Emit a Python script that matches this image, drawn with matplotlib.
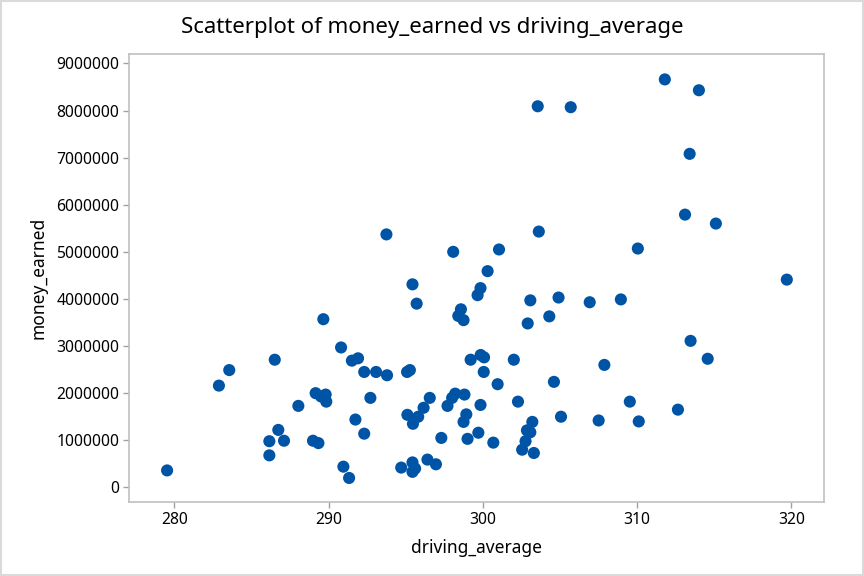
import matplotlib

matplotlib.use("Agg")

import matplotlib.pyplot as plt
from matplotlib.ticker import FixedLocator, FuncFormatter

driving_average = [
    279.52, 282.88, 283.55, 286.15, 286.15, 286.50, 286.73, 287.10, 288.03, 288.98,
    289.33, 289.15, 289.50, 289.80, 289.84, 289.65, 290.80, 290.95, 291.32, 291.50,
    291.90, 291.73, 292.30, 292.30, 292.70, 293.07, 293.74, 293.78, 294.70, 295.08,
    295.26, 295.10, 295.46, 295.80, 296.15, 296.55, 295.43, 295.60, 295.43, 295.43,
    295.70, 296.40, 296.95, 297.30, 297.70, 298.00, 298.20, 298.80, 298.92, 298.74,
    299.00, 299.70, 299.84, 298.07, 298.57, 298.40, 298.74, 299.20, 299.85, 300.07,
    300.05, 299.65, 299.84, 300.30, 300.67, 300.95, 301.04, 302.00, 302.27, 302.90,
    303.07, 302.85, 303.07, 302.76, 302.54, 303.30, 303.20, 303.55, 303.62, 304.30,
    304.60, 304.90, 305.06, 305.69, 306.92, 307.50, 307.87, 308.94, 309.52, 310.04,
    310.10, 311.79, 312.64, 313.10, 313.40, 313.46, 314.00, 314.57, 315.10, 319.70,
]

money_earned = [
    360000, 2160000, 2490000, 980000, 680000, 2710000, 1220000, 990000, 1730000, 990000,
    940000, 2000000, 1930000, 1970000, 1820000, 3570000, 2970000, 440000, 200000, 2690000,
    2740000, 1440000, 2450000, 1140000, 1900000, 2450000, 5370000, 2380000, 420000, 2450000,
    2490000, 1540000, 1350000, 1500000, 1690000, 1900000, 530000, 400000, 330000, 4310000,
    3900000, 590000, 490000, 1050000, 1730000, 1900000, 1990000, 1970000, 1550000, 1390000,
    1030000, 1160000, 1750000, 5000000, 3780000, 3640000, 3550000, 2710000, 2810000, 2760000,
    2450000, 4080000, 4230000, 4590000, 950000, 2190000, 5050000, 2710000, 1820000, 3480000,
    3970000, 1210000, 1170000, 980000, 800000, 730000, 1390000, 8090000, 5430000, 3630000,
    2240000, 4030000, 1500000, 8070000, 3930000, 1420000, 2600000, 3990000, 1820000, 5070000,
    1400000, 8660000, 1650000, 5790000, 7080000, 3110000, 8430000, 2730000, 5600000, 4410000,
]

x_ticks = [280, 290, 300, 310, 320]
y_ticks = [0, 1000000, 2000000, 3000000, 4000000, 5000000, 6000000, 7000000, 8000000, 9000000]

MARKER_COLOR = "#0054A6"
FRAME_COLOR = "#C0C0C0"
TEXT_COLOR = "#000000"

plt.rcParams["font.family"] = ["Noto Sans", "DejaVu Sans"]

fig = plt.figure(figsize=(8.64, 5.76), dpi=100)
fig.patch.set_facecolor("white")
ax = fig.add_axes([0.1493, 0.1285, 0.8044, 0.7778])

ax.scatter(driving_average, money_earned, s=76, color=MARKER_COLOR, edgecolors="none", zorder=3)

ax.set_xlim(277.05, 322.11)
ax.set_ylim(-310000, 9200000)
ax.xaxis.set_major_locator(FixedLocator(x_ticks))
ax.yaxis.set_major_locator(FixedLocator(y_ticks))
ax.yaxis.set_major_formatter(FuncFormatter(lambda v, _: f"{int(v)}"))

for side in ["top", "right", "left", "bottom"]:
    ax.spines[side].set_color(FRAME_COLOR)
    ax.spines[side].set_linewidth(1.2)

ax.tick_params(axis="both", direction="out", length=4, width=1, color="#A0A0A0",
               labelsize=11.3, labelcolor=TEXT_COLOR, pad=3)

ax.set_xlabel("driving_average", fontsize=12.5, color=TEXT_COLOR, labelpad=8)
ax.set_ylabel("money_earned", fontsize=12.5, color=TEXT_COLOR, labelpad=6.5)
fig.text(0.5, 0.952, "Scatterplot of money_earned vs driving_average",
         ha="center", va="center", fontsize=16, color="black")

# thin light border around the whole picture
fig.add_artist(plt.Rectangle((0.001, 0.001), 0.998, 0.998, transform=fig.transFigure,
                             fill=False, edgecolor="#DADADA", linewidth=1.5))

fig.savefig("out.png", dpi=100, facecolor="white")
plt.close(fig)
